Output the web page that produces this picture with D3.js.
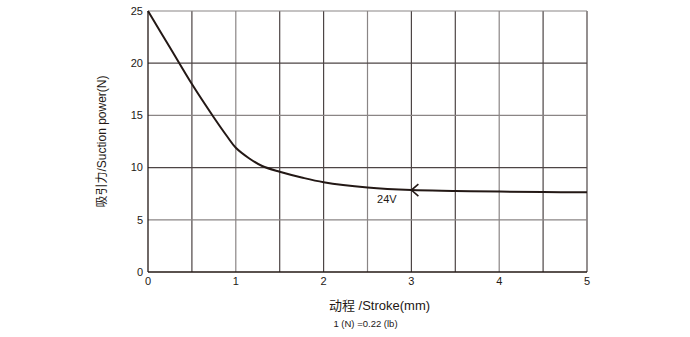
<!DOCTYPE html>
<html>
<head>
<meta charset="utf-8">
<script src="https://cdn.jsdelivr.net/npm/d3@7"></script>
<style>
  body { margin: 0; background: #fff; }
  text { font-family: "Liberation Sans", Arial, "Noto Sans CJK SC", sans-serif; fill: #231815; }
</style>
</head>
<body>
<div id="my_dataviz"></div>
<script>
// data
const stroke = [0, 0.25, 0.5, 0.75, 0.9, 1, 1.15, 1.3, 1.5, 1.75, 2, 2.5, 3, 3.5, 4, 4.5, 5];
const force24V = [25, 21.5, 18.0, 14.8, 13.0, 11.9, 10.9, 10.15, 9.6, 9.05, 8.6, 8.1, 7.85, 7.77, 7.7, 7.66, 7.63];
const xTicks = [0, 1, 2, 3, 4, 5];
const yTicks = [0, 5, 10, 15, 20, 25];
const xGrid = [0.5, 1, 1.5, 2, 2.5, 3, 3.5, 4, 4.5, 5];
const yGrid = [5, 10, 15, 20, 25];

const margin = { top: 11, right: 103, bottom: 65, left: 148 },
    width = 690 - margin.left - margin.right,
    height = 337 - margin.top - margin.bottom;

const svg = d3.select("#my_dataviz")
    .append("svg")
    .attr("width", 690)
    .attr("height", 337)
    .append("g")
    .attr("transform", `translate(${margin.left}, ${margin.top})`);

const x = d3.scaleLinear().domain([0, 5]).range([0, width]);
const y = d3.scaleLinear().domain([0, 25]).range([height, 0]);

// grid
svg.selectAll("vgrid")
    .data(xGrid)
    .join("line")
    .attr("x1", d => x(d)).attr("x2", d => x(d))
    .attr("y1", 0).attr("y2", height)
    .attr("stroke", (d, i) => i % 3 === 1 ? "#8a8585" : "#4d4545")
    .attr("stroke-width", 1.2);
svg.selectAll("hgrid")
    .data(yGrid)
    .join("line")
    .attr("x1", 0).attr("x2", width)
    .attr("y1", d => y(d)).attr("y2", d => y(d))
    .attr("stroke", (d, i) => i % 2 === 0 ? "#8a8585" : "#4d4545")
    .attr("stroke-width", 1.2);

// axes
svg.append("line")
    .attr("x1", 0).attr("x2", 0).attr("y1", 0).attr("y2", height)
    .attr("stroke", "#231815").attr("stroke-width", 1.3);
svg.append("line")
    .attr("x1", 0).attr("x2", width).attr("y1", height).attr("y2", height)
    .attr("stroke", "#231815").attr("stroke-width", 1.3);

svg.selectAll("ylab")
    .data(yTicks)
    .join("text")
    .attr("x", -5)
    .attr("y", d => y(d))
    .attr("dy", "0.35em")
    .attr("text-anchor", "end")
    .style("font-size", "11px")
    .text(d => d);

svg.selectAll("xlab")
    .data(xTicks)
    .join("text")
    .attr("x", d => x(d))
    .attr("y", height + 13)
    .attr("text-anchor", "middle")
    .style("font-size", "11px")
    .text(d => d);

// curve
const line = d3.line()
    .x((d, i) => x(stroke[i]))
    .y(d => y(d))
    .curve(d3.curveCatmullRom.alpha(0.5));
svg.append("path")
    .datum(force24V)
    .attr("d", line)
    .attr("fill", "none")
    .attr("stroke", "#231815")
    .attr("stroke-width", 2);

// arrow at x = 3
const ax = x(3), ay = y(force24V[stroke.indexOf(3)]);
svg.append("path")
    .attr("d", `M${ax + 7},${ay - 6} L${ax},${ay} L${ax + 7},${ay + 6}`)
    .attr("fill", "none")
    .attr("stroke", "#231815")
    .attr("stroke-width", 1.6);
svg.append("text")
    .attr("x", x(2.72))
    .attr("y", ay + 13)
    .attr("text-anchor", "middle")
    .style("font-size", "11px")
    .text("24V");

// titles
svg.append("text")
    .attr("transform", `translate(-42, ${height / 2}) rotate(-90)`)
    .attr("text-anchor", "middle")
    .style("font-size", "12px")
    .text("吸引力/Suction power(N)");
svg.append("text")
    .attr("x", width / 2 + 12)
    .attr("y", height + 38)
    .attr("text-anchor", "middle")
    .style("font-size", "13px")
    .text("动程 /Stroke(mm)");
svg.append("text")
    .attr("x", width / 2 - 2)
    .attr("y", height + 55)
    .attr("text-anchor", "middle")
    .style("font-size", "9.5px")
    .text("1 (N) =0.22 (lb)");
</script>
</body>
</html>
